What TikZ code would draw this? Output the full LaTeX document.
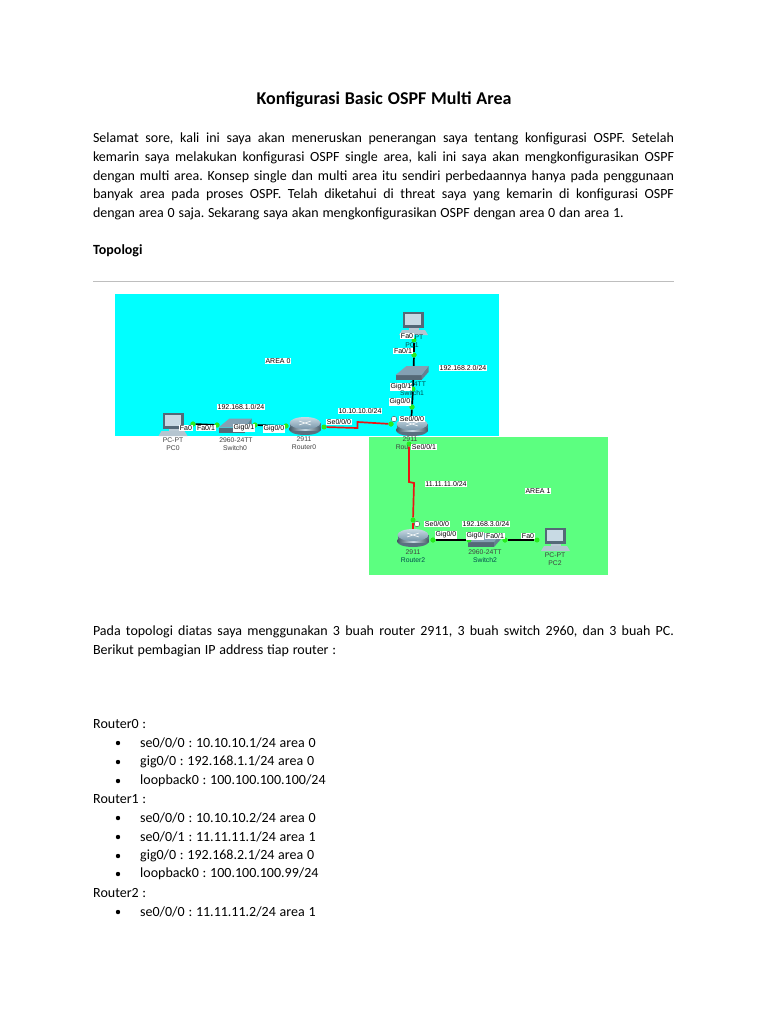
\documentclass[tikz,border=0pt]{standalone}
\usepackage{fontspec}
\setmainfont[WordSpace=1.19]{Carlito}
\newfontfamily\labelfont{Liberation Sans}
\usetikzlibrary{arrows.meta,positioning,fit,backgrounds}
\definecolor{areacyan}{RGB}{0,255,255}
\definecolor{areagreen}{RGB}{92,255,128}
\definecolor{portgreen}{RGB}{40,235,30}
\definecolor{linkred}{RGB}{235,20,20}
\definecolor{rulegray}{RGB}{190,190,190}
\definecolor{devblue}{RGB}{120,150,170}
\definecolor{devlight}{RGB}{200,218,228}
\AtBeginDocument{\frenchspacing}

\tikzset{
	routerpic/.pic={
		\fill[devblue!75!black] (-15.5,-3) rectangle (15.5,4);
		\fill[devblue!75!black] (0,4) ellipse[x radius=15.5,y radius=5];
		\shade[left color=devblue!60!black,right color=devblue!60!black,middle color=devlight] (-15.5,1) rectangle (15.5,4);
		\shade[top color=devlight,bottom color=devblue] (0,-3) ellipse[x radius=15.5,y radius=6];
		\draw[white,line width=.5pt] (-6,-5) -- (6,-1) (-6,-1) -- (6,-5);
	},
	switchpic/.pic={
		\fill[devblue!70!black] (-17,2) rectangle (9,7);
		\fill[devblue!85!black] (9,2) -- (16,-7) -- (16,-1) -- (9,7) -- cycle;
		\fill[devblue!85!devlight] (-17,2) -- (-6,-7) -- (16,-7) -- (9,2) -- cycle;
	},
	pcpic/.pic={
		\fill[devblue!70!black] (-10,-9) rectangle (11,7);
		\fill[devlight] (-8,-7) rectangle (8,4);
		\fill[devblue!50!white] (-4,7) rectangle (6,9);
		\fill[devblue!55!white] (-11,9) -- (12,9) -- (15,14) -- (-14,14) -- cycle;
	}
}

\begin{document}
\begin{tikzpicture}[x=1pt,y=-1pt,
	bodytext/.style={anchor=north west,inner sep=0pt,outer sep=0pt,text width=581pt,align=justify,
		font=\fontsize{14}{18.9}\selectfont},
	plainline/.style={anchor=west,inner sep=0pt,font=\fontsize{14}{18.9}\selectfont},
	heading/.style={plainline,font=\fontsize{14}{18.9}\selectfont\bfseries},
	listmark/.style={circle,fill=black,inner sep=0pt,minimum size=4.4pt},
	portlabel/.style={fill=white,inner sep=.6pt,font=\labelfont\fontsize{7}{7}\selectfont},
	devlabel/.style={inner sep=0pt,text=black!75,font=\labelfont\fontsize{6.8}{7}\selectfont},
	greenlabel/.style={devlabel,text=teal!60!black},
	port/.style={circle,fill=portgreen,inner sep=0pt,minimum size=5pt},
	clockmark/.style={circle,draw=black!70,fill=white,inner sep=0pt,minimum size=5.5pt},
	ethlink/.style={black,line width=1.7pt},
	seriallink/.style={linkred,line width=1.7pt}]
	\useasboundingbox (0,0) rectangle (768,1024);
	\fill[white] (0,0) rectangle (768,1024);

	\node[anchor=center,inner sep=0pt,font=\fontsize{18}{20}\selectfont\bfseries] (title) at (384,100) {Konfigurasi Basic OSPF Multi Area};
	\node[bodytext] (intro) at (93,132.5) {Selamat sore, kali ini saya akan meneruskan penerangan saya tentang konfigurasi OSPF. Setelah\linebreak
		kemarin saya melakukan konfigurasi OSPF single area, kali ini saya akan mengkonfigurasikan OSPF\linebreak
		dengan multi area. Konsep single dan multi area itu sendiri perbedaannya hanya pada penggunaan\linebreak
		banyak area pada proses OSPF. Telah diketahui di threat saya yang kemarin di konfigurasi OSPF\linebreak
		dengan area 0 saja. Sekarang saya akan mengkonfigurasikan OSPF dengan area 0 dan area 1.};
	\node[heading] (topologi) at (93,251) {Topologi};
	\draw[rulegray,line width=.8pt] (93,281) -- (674,281);

	% areas
	\node[fill=areacyan,anchor=north west,inner sep=0pt,minimum width=384pt,minimum height=142pt] (area0) at (115,294) {};
	\node[fill=areagreen,anchor=north west,inner sep=0pt,minimum width=239pt,minimum height=138pt] (area1) at (369,437) {};

	% ports
	\node[port] (pc0p) at (193,424) {};
	\node[port] (sw0a) at (217,425) {};
	\node[port] (sw0b) at (255,425) {};
	\node[port] (r0g) at (286,426) {};
	\node[port] (r0s) at (324,427) {};
	\node[port] (r1s) at (391,424) {};
	\node[port] (r1g) at (412,407) {};
	\node[port] (sw1b) at (413,389) {};
	\node[port] (sw1a) at (414,355) {};
	\node[port] (pc1p) at (414,340) {};
	\node[port] (r1t) at (409,444) {};
	\node[port] (r2s) at (413,520) {};
	\node[port] (r2g) at (433,540) {};
	\node[port] (sw2a) at (469,540) {};
	\node[port] (sw2b) at (505,540) {};
	\node[port] (pc2p) at (537,540) {};
	\coordinate (r1c) at (411,425);
	\coordinate (r2c) at (413,532);
	\coordinate (serialtop) at (357.5,422);
	\coordinate (serialbot) at (357.5,428);
	\coordinate (kinkl) at (409,482);
	\coordinate (kinkr) at (414,483);

	% links
	\draw[ethlink] (pc0p) -- (sw0a);
	\draw[ethlink] (sw0b) -- (r0g);
	\draw[ethlink] (pc1p) -- (sw1a);
	\draw[ethlink] (sw1a) -- (sw1b);
	\draw[ethlink] (sw1b) -- (r1g);
	\draw[ethlink] (r1g) -- (r1c);
	\draw[ethlink] (r2g) -- (sw2a);
	\draw[ethlink] (sw2b) -- (pc2p);
	\draw[seriallink] (r0s) -- (serialbot) -- (serialtop) -- (r1s);
	\draw[seriallink] (r1t) -- (kinkl) -- (kinkr) -- (r2s);
	\draw[seriallink] (r2s) -- (r2c);

	% devices
	\pic at (172.5,422) {pcpic};
	\pic at (413,321) {pcpic};
	\pic at (555,537) {pcpic};
	\pic at (235.5,425.5) {switchpic};
	\pic at (412.5,373) {switchpic};
	\pic at (485,540) {switchpic};
	\pic at (305,426) {routerpic};
	\pic at (412,427) {routerpic};
	\pic at (413,538) {routerpic};
	\node[port] (pc0q) at (pc0p) {};
	\node[port] (sw0q) at (sw0a) {};
	\node[port] (sw0r) at (sw0b) {};
	\node[port] (r0q) at (r0g) {};
	\node[port] (sw1q) at (sw1a) {};
	\node[port] (r1q) at (r1g) {};
	\node[port] (r1r) at (r1s) {};
	\node[port] (r2q) at (r2g) {};
	\node[port] (sw2q) at (sw2a) {};
	\node[port] (sw2r) at (sw2b) {};

	% labels
	\node[portlabel] (areazero) at (278,361) {AREA 0};
	\node[portlabel] (areaone) at (538,491) {AREA 1};
	\node[portlabel] (net1) at (241,407) {192.168.1.0/24};
	\node[portlabel] (net2) at (463,368) {192.168.2.0/24};
	\node[portlabel] (net3) at (486,524) {192.168.3.0/24};
	\node[portlabel] (net10) at (360,411) {10.10.10.0/24};
	\node[portlabel] (net11) at (446,484) {11.11.11.0/24};
	\node[portlabel] (pc0fa) at (186,428) {Fa0};
	\node[portlabel] (sw0fa) at (206,428) {Fa0/1};
	\node[portlabel] (sw0gig) at (244,428) {Gig0/1};
	\node[portlabel] (r0gig) at (274,429) {Gig0/0};
	\node[portlabel] (r0se) at (339,422) {Se0/0/0};
	\node[portlabel] (r1se) at (412,419) {Se0/0/0};
	\node[portlabel] (r1sea) at (424,447) {Se0/0/1};
	\node[portlabel] (r1gig) at (400,402) {Gig0/0};
	\node[portlabel] (sw1gig) at (401,387) {Gig0/1};
	\node[portlabel] (sw1fa) at (403,351) {Fa0/1};
	\node[portlabel] (pc1fa) at (407,336) {Fa0};
	\node[portlabel] (r2se) at (437,524) {Se0/0/0};
	\node[portlabel] (r2gig) at (446,535) {Gig0/0};
	\node[portlabel] (sw2gig) at (475,536) {Gig0/};
	\node[portlabel] (sw2fa) at (495,536) {Fa0/1};
	\node[portlabel] (pc2fa) at (528,536) {Fa0};

	\node[clockmark] (clock1) at (394,419) {};
	\node[clockmark] (clock2) at (417,524) {};

	\node[devlabel] (pc0a) at (173,440) {PC-PT};
	\node[devlabel] (pc0b) at (173,448) {PC0};
	\node[devlabel] (sw0c) at (236,440) {2960-24TT};
	\node[devlabel] (sw0d) at (235,448) {Switch0};
	\node[devlabel] (r0a) at (304,439) {2911};
	\node[devlabel] (r0b) at (304,447) {Router0};
	\node[greenlabel] (pc1a) at (419,337) {PT};
	\node[greenlabel] (pc1b) at (412,345) {PC1};
	\node[greenlabel] (sw1c) at (418,384) {24TT};
	\node[greenlabel] (sw1d) at (412,393) {Switch1};
	\node[devlabel] (r1a) at (410,439) {2911};
	\node[devlabel] (r1b) at (402,447) {Rou};
	\node[devlabel] (r2a) at (413,552) {2911};
	\node[greenlabel] (r2b) at (413,560) {Router2};
	\node[devlabel] (sw2c) at (485,552) {2960-24TT};
	\node[greenlabel] (sw2d) at (485,560) {Switch2};
	\node[devlabel] (pc2a) at (555,555) {PC-PT};
	\node[devlabel] (pc2b) at (555,563) {PC2};

	\node[bodytext] (after) at (93,625.5) {Pada topologi diatas saya menggunakan 3 buah router 2911, 3 buah switch 2960, dan 3 buah PC.\linebreak
		Berikut pembagian IP address tiap router :};

	\node[plainline] (router0) at (93,724) {Router0 :};
	\node[plainline] (r0l1) at (140,743) {se0/0/0 : 10.10.10.1/24 area 0};
	\node[plainline] (r0l2) at (140,762) {gig0/0 : 192.168.1.1/24 area 0};
	\node[plainline] (r0l3) at (140,781) {loopback0 : 100.100.100.100/24};
	\node[plainline] (router1) at (93,799) {Router1 :};
	\node[plainline] (r1l1) at (140,818) {se0/0/0 : 10.10.10.2/24 area 0};
	\node[plainline] (r1l2) at (140,837) {se0/0/1 : 11.11.11.1/24 area 1};
	\node[plainline] (r1l3) at (140,856) {gig0/0 : 192.168.2.1/24 area 0};
	\node[plainline] (r1l4) at (140,874) {loopback0 : 100.100.100.99/24};
	\node[plainline] (router2) at (93,893) {Router2 :};
	\node[plainline] (r2l1) at (140,912) {se0/0/0 : 11.11.11.2/24 area 1};
	\foreach \ypos/\nm in {743/a,762/b,781/c,818/d,837/e,856/f,874/g,912/h}
		\node[listmark] (mark\nm) at (118,\ypos) {};
\end{tikzpicture}
\end{document}
